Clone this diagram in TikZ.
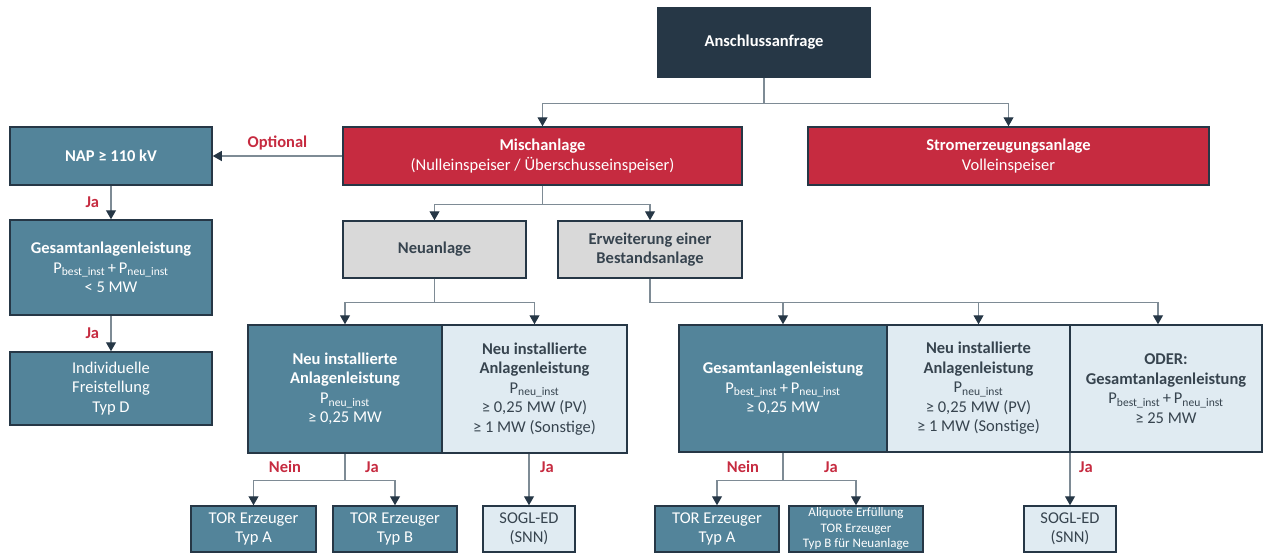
\documentclass[tikz,border=0pt]{standalone}
\usepackage{fontspec}
\setmainfont{Carlito}
\usetikzlibrary{arrows.meta,positioning}
\definecolor{anfnavy}{HTML}{263746}
\definecolor{anfred}{HTML}{C62B40}
\definecolor{anfteal}{HTML}{53849A}
\definecolor{anflight}{HTML}{E0EBF2}
\definecolor{anfgrey}{HTML}{D9D9D9}
\definecolor{anfline}{HTML}{7E8B95}
\definecolor{anftext}{HTML}{37444F}
\tikzset{
  bx/.style={draw=anfnavy,line width=1.5pt,align=center,inner sep=0pt,
    font=\fontsize{16.5}{19.5}\selectfont},
  navybx/.style={bx,fill=anfnavy,text=white},
  redbx/.style={bx,fill=anfred,text=white},
  tealbx/.style={bx,fill=anfteal,text=white},
  lightbx/.style={bx,fill=anflight,text=anftext},
  greybx/.style={bx,fill=anfgrey,text=anftext},
  link/.style={draw=anfline,line width=1.1pt,
    -{Triangle[length=9pt,width=10pt,color=anfnavy]}},
  yes/.style={text=anfred,font=\fontsize{16.5}{19.5}\selectfont\bfseries},
}
\newcommand{\Pbi}{P\textsubscript{best\_inst}}
\newcommand{\Pni}{P\textsubscript{neu\_inst}}

\begin{document}
\begin{tikzpicture}[x=1pt,y=-1pt]
  \useasboundingbox (0,0) rectangle (1264,554);
  % top level
  \node[navybx,minimum width=212pt,minimum height=69pt] (anfrage) at (764,42.5)
    {\textbf{Anschlussanfrage}};
  \node[redbx,minimum width=399pt,minimum height=58pt] (misch) at (542.5,156)
    {\textbf{Mischanlage}\\(Nulleinspeiser / Überschusseinspeiser)};
  \node[redbx,minimum width=401pt,minimum height=58pt] (strom) at (1008.5,156)
    {\textbf{Stromerzeugungsanlage}\\Volleinspeiser};
  % optional branch on the left
  \node[tealbx,minimum width=202pt,minimum height=58pt] (nap) at (111,156)
    {\textbf{NAP ≥ 110 kV}};
  \node[tealbx,minimum width=202pt,minimum height=95pt] (gesl) at (111,267.5)
    {\textbf{Gesamtanlagenleistung}\\\Pbi\,+\,\Pni\\< 5 MW};
  \node[tealbx,minimum width=202pt,minimum height=73pt] (indiv) at (111,388.5)
    {Individuelle\\Freistellung\\Typ D};
  % second level
  \node[greybx,minimum width=183pt,minimum height=57pt] (neu) at (434.5,249.5)
    {\textbf{Neuanlage}};
  \node[greybx,minimum width=184pt,minimum height=57pt] (erw) at (650,249.5)
    {\textbf{Erweiterung einer}\\\textbf{Bestandsanlage}};
  % criteria Neuanlage
  \node[tealbx,minimum width=194pt,minimum height=128pt] (na) at (345,389)
    {\textbf{Neu installierte}\\\textbf{Anlagenleistung}\\\Pni\\≥ 0,25 MW};
  \node[lightbx,minimum width=185pt,minimum height=128pt] (nb) at (534.5,389)
    {\textbf{Neu installierte}\\\textbf{Anlagenleistung}\\\Pni\\≥ 0,25 MW (PV)\\≥ 1 MW (Sonstige)};
  % criteria Erweiterung
  \node[tealbx,minimum width=208pt,minimum height=127pt] (ea) at (783,388.5)
    {\textbf{Gesamtanlagenleistung}\\\Pbi\,+\,\Pni\\≥ 0,25 MW};
  \node[lightbx,minimum width=183pt,minimum height=127pt] (eb) at (978.5,388.5)
    {\textbf{Neu installierte}\\\textbf{Anlagenleistung}\\\Pni\\≥ 0,25 MW (PV)\\≥ 1 MW (Sonstige)};
  \node[lightbx,minimum width=192pt,minimum height=127pt] (ec) at (1166,388.5)
    {\textbf{ODER:}\\\textbf{Gesamtanlagenleistung}\\\Pbi\,+\,\Pni\\≥ 25 MW};
  % results
  \node[tealbx,minimum width=125pt,minimum height=46pt] (tora) at (253.5,529)
    {TOR Erzeuger\\Typ A};
  \node[tealbx,minimum width=124pt,minimum height=46pt] (torb) at (395,529)
    {TOR Erzeuger\\Typ B};
  \node[lightbx,minimum width=92pt,minimum height=46pt] (sogla) at (529,529)
    {SOGL-ED\\(SNN)};
  \node[tealbx,minimum width=124pt,minimum height=46pt] (torc) at (717,529)
    {TOR Erzeuger\\Typ A};
  \node[tealbx,minimum width=134pt,minimum height=46pt,
    font=\fontsize{13}{15.5}\selectfont] (aliq) at (856,529)
    {Aliquote Erfüllung\\TOR Erzeuger\\Typ B für Neuanlage};
  \node[lightbx,minimum width=92pt,minimum height=46pt] (soglb) at (1070,529)
    {SOGL-ED\\(SNN)};

  % connectors
  \draw[link] (anfrage.south) -- ++(0,26) -| (misch.north);
  \draw[link] (anfrage.south) -- ++(0,26) -| (strom.north);
  \draw[link] (misch.west) -- (nap.east) node[yes,midway,above=2pt] {Optional};
  \draw[link] (nap.south) -- (gesl.north) node[yes,midway,left=8pt] {Ja};
  \draw[link] (gesl.south) -- (indiv.north) node[yes,midway,left=8pt] {Ja};
  \draw[link] (misch.south) -- ++(0,19) -| (neu.north);
  \draw[link] (misch.south) -- ++(0,19) -| (erw.north);
  \draw[link] (neu.south) -- ++(0,24) -| (na.north);
  \draw[link] (neu.south) -- ++(0,24) -| (nb.north);
  \draw[link] (erw.south) -- ++(0,24) -| (ea.north);
  \draw[link] (erw.south) -- ++(0,24) -| (eb.north);
  \draw[link] (erw.south) -- ++(0,24) -| ([xshift=-8pt]ec.north);
  \draw[link] (na.south) -- ++(0,27) -| (tora.north);
  \draw[link] (na.south) -- ++(0,27) -| (torb.north);
  \draw[link] (sogla.north |- nb.south) -- (sogla.north);
  \draw[link] (ea.south) -- ++(0,28) -| (torc.north);
  \draw[link] (ea.south) -- ++(0,28) -| (aliq.north);
  \draw[link] (soglb.north |- eb.south) -- (soglb.north);
  % answer labels
  \node[yes] (nein1) at (285,467) {Nein};
  \node[yes] (ja1) at (372,467) {Ja};
  \node[yes] (ja2) at (547,467) {Ja};
  \node[yes] (nein2) at (743,467) {Nein};
  \node[yes] (ja3) at (831,467) {Ja};
  \node[yes] (ja4) at (1086,467) {Ja};
\end{tikzpicture}
\end{document}
